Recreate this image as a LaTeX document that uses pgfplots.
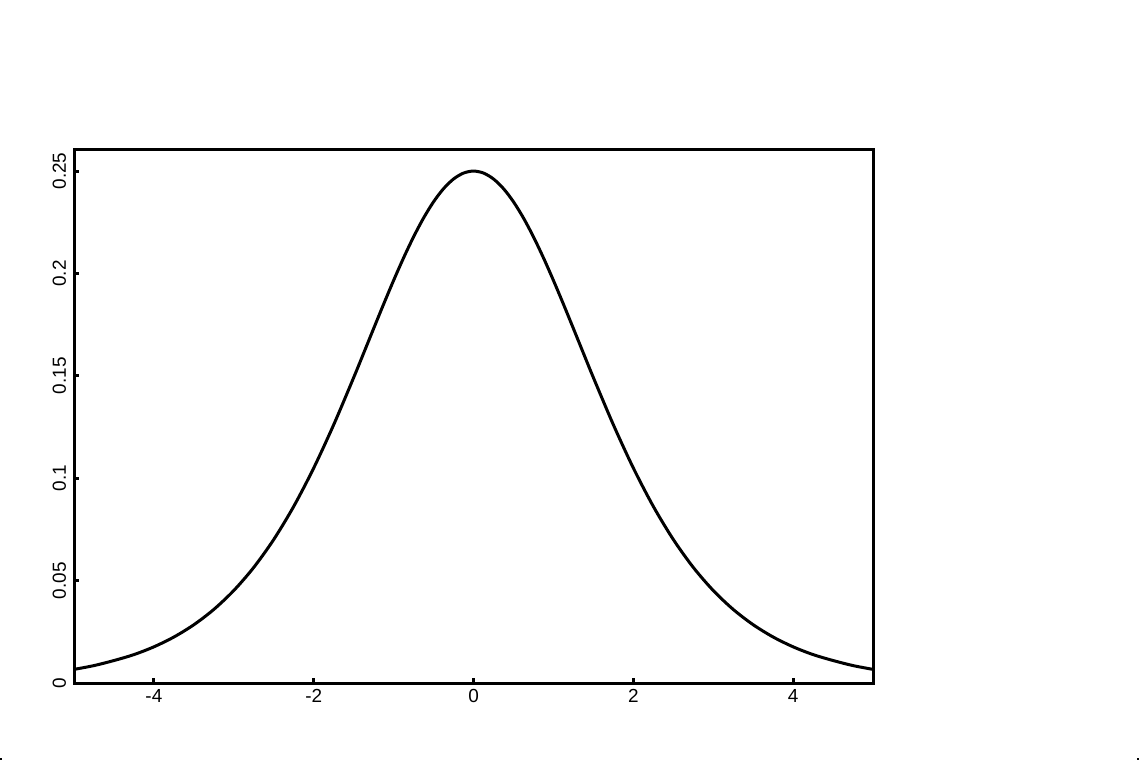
\documentclass[border=0pt]{standalone}
\usepackage{pgfplots}
\pgfplotsset{compat=1.18}
\usepackage{fontspec}
\setmainfont{Liberation Sans}

\begin{document}
\begin{tikzpicture}[x=0.5bp,y=0.5bp]
\useasboundingbox (0,0) rectangle (1140,760);
\fill (0,0) rectangle (2,2);
\fill (1137,0) rectangle (1139,2);
\begin{axis}[
    at={(37bp,38.5bp)}, anchor=south west,
    scale only axis,
    width=399.5bp, height=266.5bp,
    xmin=-5, xmax=5, ymin=0, ymax=0.2603,
    xtick={-4,-2,0,2,4},
    ytick={0,0.05,0.1,0.15,0.2,0.25},
    yticklabels={0,0.05,0.1,0.15,0.2,0.25},
    xticklabels={-4,-2,0,2,4},
    tick align=inside,
    xtick pos=bottom, ytick pos=left,
    major tick length=2.5bp,
    tick style={line width=1.5bp, black},
    axis line style={line width=1.5bp},
    every tick label/.append style={font=\fontsize{9.5}{11}\selectfont},
    yticklabel style={rotate=90, anchor=south, yshift=0.5bp},
    xticklabel style={yshift=0.5bp},
    scaled y ticks=false,
    clip=true,
]
\addplot [black, line width=1.5bp, smooth] coordinates {
(-5,0.006648) (-4.75,0.008504) (-4.5,0.010976) (-4.25,0.013865) (-4,0.017663)
(-3.75,0.022450) (-3.5,0.028453) (-3.25,0.035934) (-3,0.045177) (-2.75,0.056476)
(-2.5,0.070104) (-2.25,0.086258) (-2,0.104994) (-1.75,0.126129) (-1.5,0.149146)
(-1.375,0.161085) (-1.25,0.173105) (-1.125,0.185018) (-1,0.196612)
(-0.875,0.207652) (-0.75,0.217895) (-0.625,0.227092) (-0.5,0.235004)
(-0.375,0.241413) (-0.25,0.246134) (-0.125,0.249026)
(0,0.25)
(0.125,0.249026) (0.25,0.246134) (0.375,0.241413) (0.5,0.235004)
(0.625,0.227092) (0.75,0.217895) (0.875,0.207652) (1,0.196612)
(1.125,0.185018) (1.25,0.173105) (1.375,0.161085)
(1.5,0.149146) (1.75,0.126129) (2,0.104994) (2.25,0.086258) (2.5,0.070104)
(2.75,0.056476) (3,0.045177) (3.25,0.035934) (3.5,0.028453) (3.75,0.022450)
(4,0.017663) (4.25,0.013865) (4.5,0.010976) (4.75,0.008504) (5,0.006648)
};
\end{axis}
\end{tikzpicture}
\end{document}
